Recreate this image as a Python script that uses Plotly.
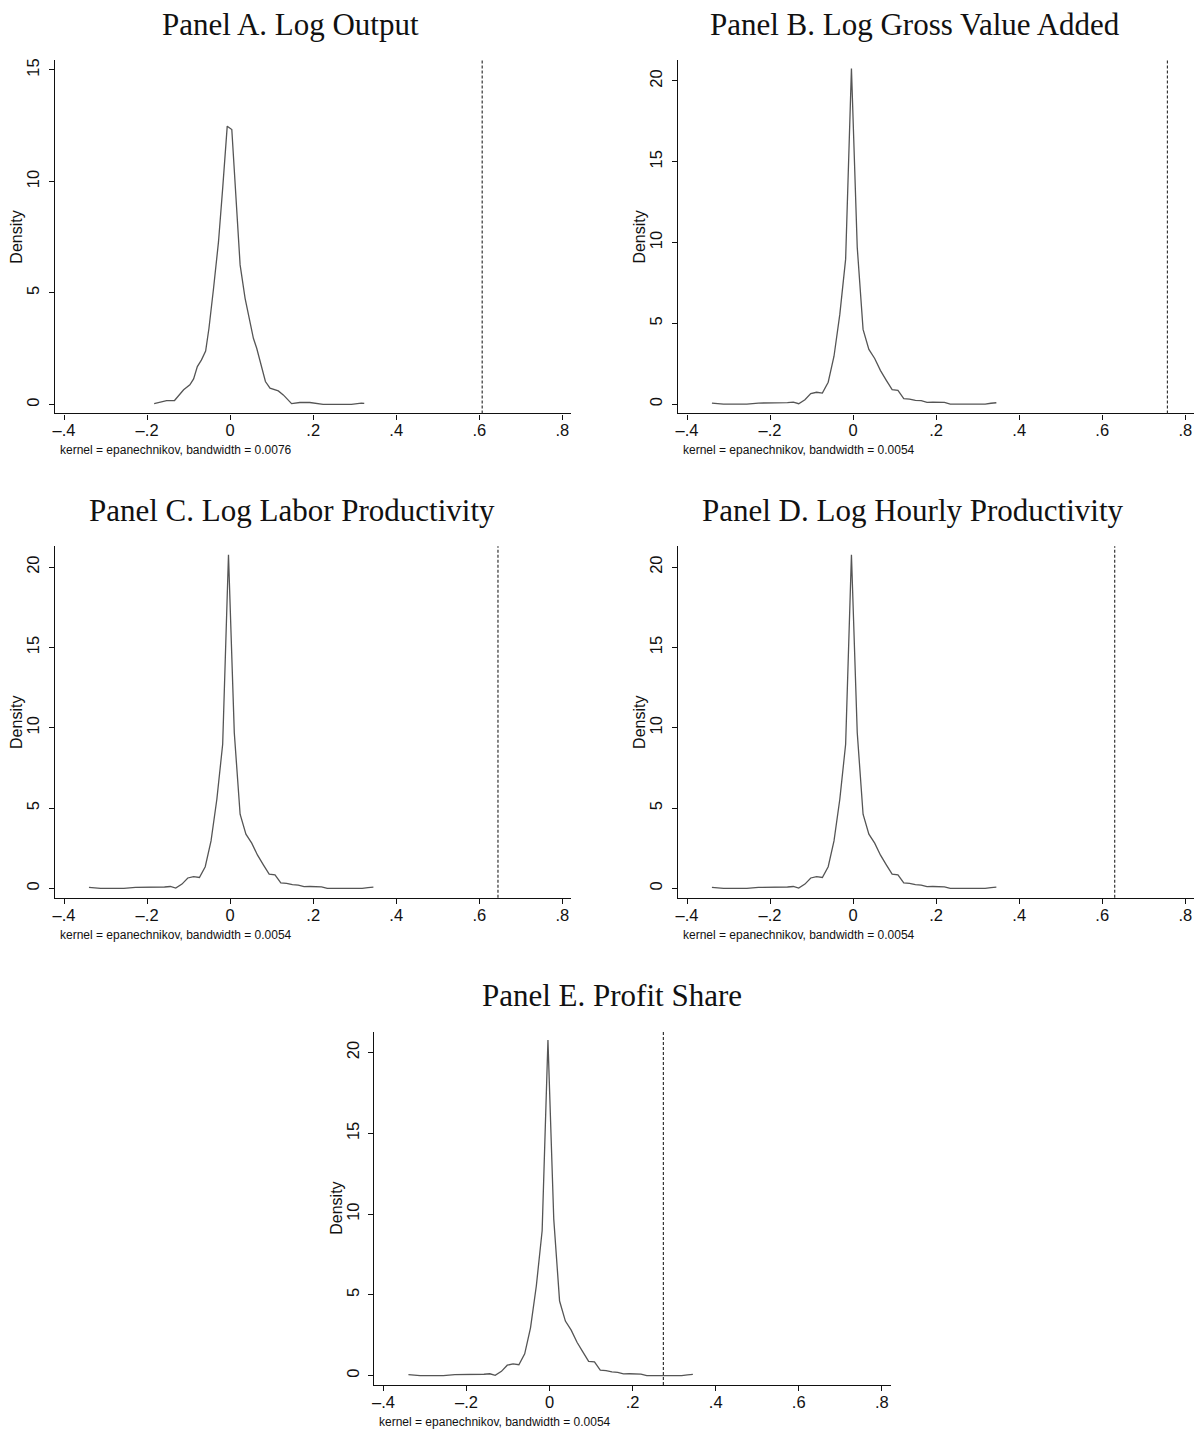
import plotly.graph_objects as go

# ---------------- data ----------------
# Panel A: Log Output (kernel density, bandwidth 0.0076)
a_x = [-0.183, -0.153, -0.134, -0.112, -0.097, -0.088, -0.079, -0.069, -0.059, -0.051,
       -0.040, -0.028, -0.018, -0.007, 0.004, 0.014, 0.024, 0.036, 0.048, 0.056,
       0.064, 0.074, 0.085, 0.096, 0.116, 0.128, 0.148, 0.168, 0.192, 0.224,
       0.292, 0.316, 0.323]
a_y = [0.04, 0.17, 0.18, 0.66, 0.88, 1.15, 1.70, 2.00, 2.40, 3.42,
       5.20, 7.30, 9.69, 12.48, 12.33, 9.09, 6.26, 4.76, 3.64, 2.97,
       2.52, 1.78, 1.03, 0.73, 0.61, 0.43, 0.04, 0.09, 0.09, 0.01,
       0.01, 0.06, 0.05]

# Panels B-E share the same estimated density (bandwidth 0.0054)
b_x = [-0.340, -0.312, -0.284, -0.256, -0.228, -0.200, -0.176, -0.158, -0.144, -0.131,
       -0.116, -0.102, -0.088, -0.074, -0.060, -0.046, -0.032, -0.018, -0.004, 0.010,
       0.024, 0.038, 0.052, 0.066, 0.080, 0.094, 0.108, 0.122, 0.136, 0.150,
       0.164, 0.178, 0.192, 0.206, 0.220, 0.234, 0.262, 0.290, 0.318, 0.332, 0.345]
b_y = [0.06, 0.00, 0.00, 0.00, 0.06, 0.06, 0.06, 0.09, 0.12, 0.02,
       0.27, 0.65, 0.73, 0.68, 1.35, 2.96, 5.55, 8.97, 20.77, 9.69,
       4.62, 3.38, 2.82, 2.07, 1.47, 0.89, 0.85, 0.34, 0.31, 0.23,
       0.21, 0.11, 0.12, 0.12, 0.10, 0.00, 0.00, 0.00, 0.00, 0.05, 0.08]

panel_titles = ["Panel A. Log Output", "Panel B. Log Gross Value Added",
                "Panel C. Log Labor Productivity", "Panel D. Log Hourly Productivity",
                "Panel E. Profit Share"]
notes = ["kernel = epanechnikov, bandwidth = 0.0076"] + ["kernel = epanechnikov, bandwidth = 0.0054"] * 4
xlines = [0.607, 0.757, 0.645, 0.630, 0.274]
curves_x = [a_x, b_x, b_x, b_x, b_x]
curves_y = [a_y, b_y, b_y, b_y, b_y]

x_tickvals = [-0.4, -0.2, 0, 0.2, 0.4, 0.6, 0.8]
x_ticktext = ["\u2013.4", "\u2013.2", "0", ".2", ".4", ".6", ".8"]
y_ticks_a = [0, 5, 10, 15]
y_ticks_b = [0, 5, 10, 15, 20]
y_ticks = [y_ticks_a, y_ticks_b, y_ticks_b, y_ticks_b, y_ticks_b]
y_ranges = [[-0.4, 15.45], [-0.58, 21.3], [-0.58, 21.3], [-0.58, 21.3], [-0.58, 21.3]]

# ---------------- layout geometry (pixels) ----------------
W, H = 1201, 1430
# (left, right, top, bottom) of each plot region in px
boxes = [(53, 570, 58, 412), (677, 1194, 58, 412),
         (53, 570, 545, 897), (677, 1194, 545, 897),
         (373, 890, 1031, 1385)]
title_pos = [(289, 23), (915, 23), (290, 509), (913, 509), (611, 995)]

def px(xp):
    return xp / W

def py(yp):
    return 1 - yp / H

fig = go.Figure()
layout = dict(width=W, height=H, margin=dict(l=0, r=0, t=0, b=0),
              plot_bgcolor="white", paper_bgcolor="white", showlegend=False)
annotations = []
shapes = []
tickfont = dict(family="Liberation Sans, Arial, sans-serif", size=16.5, color="#111")

for i in range(5):
    n = "" if i == 0 else str(i + 1)
    l, r, t, b = boxes[i]
    fig.add_trace(go.Scatter(x=curves_x[i], y=curves_y[i], mode="lines",
                             line=dict(color="#555555", width=1.3),
                             xaxis="x" + n, yaxis="y" + n, hoverinfo="skip"))
    layout["xaxis" + n] = dict(domain=[px(l), px(r)], anchor="y" + n,
                               range=[-0.422, 0.821], tickvals=x_tickvals, ticktext=x_ticktext,
                               showgrid=False, zeroline=False, showline=True, linecolor="#111",
                               linewidth=1.2, ticks="outside", ticklen=5, tickcolor="#111",
                               ticklabelstandoff=-3, tickfont=tickfont)
    layout["yaxis" + n] = dict(domain=[py(b), py(t)], anchor="x" + n,
                               range=y_ranges[i], tickvals=y_ticks[i],
                               showgrid=False, zeroline=False, showline=True, linecolor="#111",
                               linewidth=1.2, ticks="outside", ticklen=5, tickcolor="#111",
                               ticklabelstandoff=3, tickangle=-90, tickfont=tickfont)
    shapes.append(dict(type="line", xref="x" + n, yref="y" + n + " domain",
                       x0=xlines[i], x1=xlines[i], y0=0, y1=1,
                       line=dict(color="#333333", width=1.2, dash="3px,2px")))
    tx, ty = title_pos[i]
    annotations.append(dict(text=panel_titles[i], x=px(tx), y=py(ty), xref="paper", yref="paper",
                            showarrow=False, xanchor="center", yanchor="middle",
                            font=dict(family="Liberation Serif, DejaVu Serif, serif", size=31,
                                      color="#111")))
    annotations.append(dict(text="Density", x=px(l - 38), y=py((t + b) / 2), xref="paper",
                            yref="paper", showarrow=False, textangle=-90,
                            xanchor="center", yanchor="middle",
                            font=dict(family="Liberation Sans, Arial, sans-serif", size=16,
                                      color="#111")))
    annotations.append(dict(text=notes[i], x=px(l + 3), y=py(b + 37), xref="paper", yref="paper",
                            showarrow=False, xanchor="left", yanchor="middle",
                            font=dict(family="Liberation Sans, Arial, sans-serif", size=12,
                                      color="#111")))

layout["annotations"] = annotations
layout["shapes"] = shapes
fig.update_layout(**layout)
fig.write_html("out.html", config={"displayModeBar": False},
               post_script="document.body.style.margin='0';document.body.style.padding='0';")
